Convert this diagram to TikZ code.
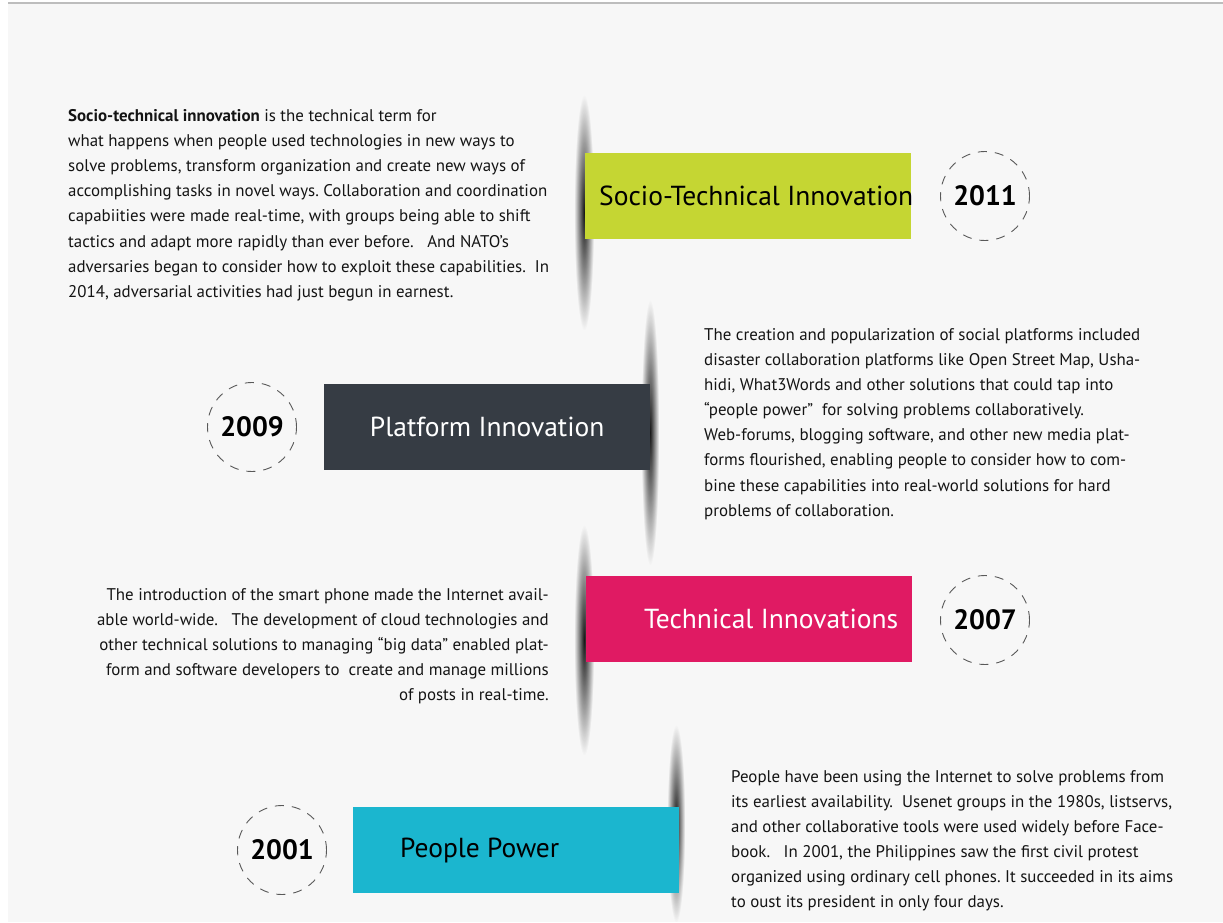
\documentclass[tikz,border=0pt]{standalone}
\usepackage{fontspec}
\setmainfont{PT Sans}
\usetikzlibrary{positioning,fadings}

\definecolor{pagebg}{HTML}{F7F7F7}
\definecolor{rule}{HTML}{BDBDBD}
\definecolor{lime}{HTML}{C5D633}
\definecolor{slate}{HTML}{363C44}
\definecolor{rose}{HTML}{E01A63}
\definecolor{teal}{HTML}{1BB6CF}

\tikzfading[name=curlfade, inner color=transparent!0, outer color=transparent!100]

\tikzset{
  banner/.style={rectangle, inner sep=0pt, minimum width=326pt, minimum height=86pt},
  title/.style={inner sep=0pt, font=\fontsize{27.5}{32}\selectfont},
  year/.style={circle, draw=black!65, dash pattern=on 9pt off 8pt, line width=0.9pt,
    minimum size=89pt, inner sep=0pt, font=\bfseries\fontsize{28}{32}\selectfont},
  para/.style={inner sep=0pt, font=\fontsize{16.9}{25.15}\selectfont, text=black!92},
  curl/.style={fill=black, path fading=curlfade}
}

\begin{document}
\frenchspacing
\begin{tikzpicture}[x=1pt, y=-1pt]
  \useasboundingbox (0,0) rectangle (1223,922);
  \fill[white] (0,0) rectangle (1223,922);
  \fill[pagebg] (8,3) rectangle (1223,922);
  \draw[rule, line width=1.2pt] (8,3) -- (1223,3);

  % curl shadows behind the banners
  \fill[curl, fill opacity=0.9] (574,95) rectangle (594,330);
  \fill[curl, fill opacity=0.9] (641,300) rectangle (659,565);
  \fill[curl, fill opacity=0.9] (574,525) rectangle (594,755);
  \fill[curl, fill opacity=0.9] (667,725) rectangle (685,922);

  \node[banner, fill=lime, anchor=north west]  (b11) at (585,153) {};
  \node[banner, fill=slate, anchor=north west] (b09) at (324,384) {};
  \node[banner, fill=rose, anchor=north west]  (b07) at (586,576) {};
  \node[banner, fill=teal, anchor=north west]  (b01) at (353,807) {};

  \node[title, anchor=west, text=black] (t11) at ([xshift=14pt]b11.west) {Socio-Technical Innovation};
  \node[title, text=white] (t09) at (b09) {Platform Innovation};
  \node[title, anchor=east, text=white] (t07) at ([xshift=-14pt]b07.east) {Technical Innovations};
  \node[title, anchor=west, text=black] (t01) at ([xshift=47pt]b01.west) {People Power};

  \node[year] (y11) at (985,196) {2011};
  \node[year] (y09) at (252,427) {2009};
  \node[year] (y07) at (985,620) {2007};
  \node[year] (y01) at (282,850) {2001};

  \node[para, align=left, anchor=north west] (p11) at (68,109) {%
    \textbf{Socio-technical innovation} is the technical term for\\
    what happens when people used technologies in new ways to\\
    solve problems, transform organization and create new ways of\\
    accomplishing tasks in novel ways. Collaboration and coordination\\
    capabiities were made real-time, with groups being able to shift\\
    tactics and adapt more rapidly than ever before.\ \ \ And NATO’s\\
    adversaries began to consider how to exploit these capabilities.\ \ In\\
    2014, adversarial activities had just begun in earnest.};

  \node[para, align=left, anchor=north west] (p09) at (704,328) {%
    The creation and popularization of social platforms included\\
    disaster collaboration platforms like Open Street Map, Usha-\\
    hidi, What3Words and other solutions that could tap into\\
    “people power”\ \ for solving problems collaboratively.\\
    Web-forums, blogging software, and other new media plat-\\
    forms flourished, enabling people to consider how to com-\\
    bine these capabilities into real-world solutions for hard\\
    problems of collaboration.};

  \node[para, align=right, anchor=north east] (p07) at (549,588) {%
    The introduction of the smart phone made the Internet avail-\\
    able world-wide.\ \ \ The development of cloud technologies and\\
    other technical solutions to managing “big data” enabled plat-\\
    form and software developers to\ \ create and manage millions\\
    of posts in real-time.};

  \node[para, align=left, anchor=north west] (p01) at (731,770) {%
    People have been using the Internet to solve problems from\\
    its earliest availability.\ \ Usenet groups in the 1980s, listservs,\\
    and other collaborative tools were used widely before Face-\\
    book.\ \ \ In 2001, the Philippines saw the first civil protest\\
    organized using ordinary cell phones. It succeeded in its aims\\
    to oust its president in only four days.};
\end{tikzpicture}
\end{document}
